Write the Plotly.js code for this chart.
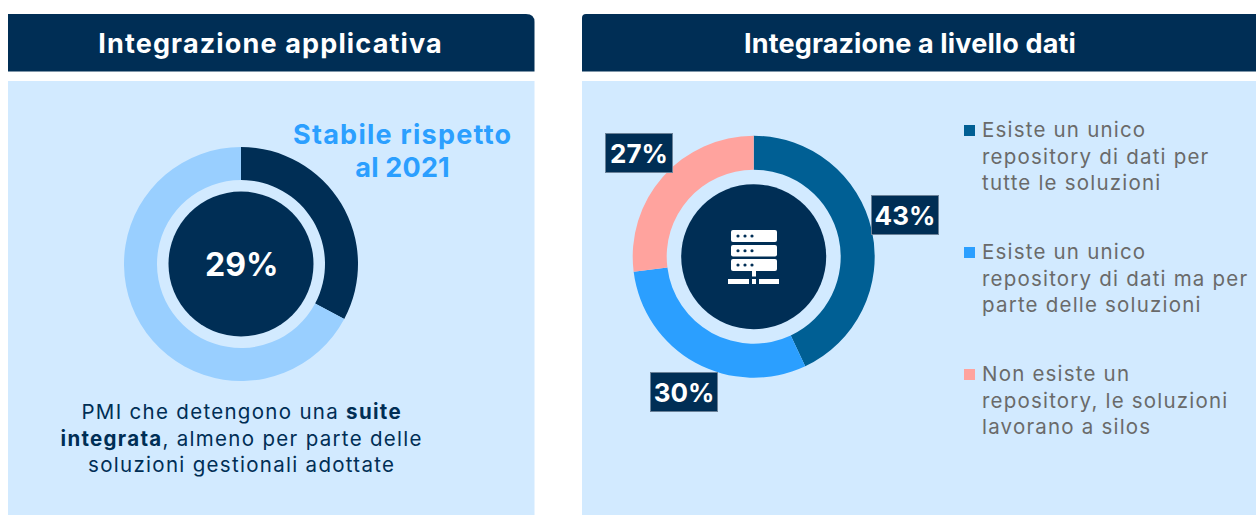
<!DOCTYPE html>
<html><head><meta charset="utf-8">
<script src="https://cdn.plot.ly/plotly-3.0.1.min.js"></script>
<style>html,body{margin:0;padding:0;background:#fff;overflow:hidden}#c{width:1256px;height:515px}</style>
</head><body><div id="c"></div>
<script>
const leftCategories = ["PMI con suite integrata", "Altre PMI"];
const leftLabel = 29;                 // the printed figure
const leftArcValues = [32.8, 67.2];   // the arc as actually drawn in the picture (about 118 degrees)
const leftColors = ["#002e55", "#99cfff"];
const rightCategories = ["Esiste un unico<br>repository di dati per<br>tutte le soluzioni", "Esiste un unico<br>repository di dati ma per<br>parte delle soluzioni", "Non esiste un<br>repository, le soluzioni<br>lavorano a silos"];
const rightValues = [43, 30, 27];
const rightColors = ["#005f94", "#2b9fff", "#ffa39e"];
const NAVY = "#002e55", PANEL = "#d2eaff", FONT = "Inter, 'Open Sans', sans-serif";
const W = 1256, H = 515;
const px = x => x / W, py = y => 1 - y / H;

function dom(cx, cy, r) { return { x: [px(cx - r), px(cx + r)], y: [py(cy + r), py(cy - r)] }; }
function rect(x0, y0, x1, y1, fill, layer) {
  return { type: "rect", xref: "paper", yref: "paper", x0: px(x0), x1: px(x1), y0: py(y1), y1: py(y0), fillcolor: fill, line: { width: 0 }, layer: layer || "below" };
}
function rrect(x0, y0, x1, y1, r, fill) {
  const p = (x, y) => `${px(x)} ${py(y)}`;
  return { type: "path", xref: "paper", yref: "paper", fillcolor: fill, line: { width: 0 }, layer: "above",
    path: `M ${p(x0 + r, y0)} L ${p(x1 - r, y0)} Q ${p(x1, y0)} ${p(x1, y0 + r)} L ${p(x1, y1 - r)} Q ${p(x1, y1)} ${p(x1 - r, y1)} L ${p(x0 + r, y1)} Q ${p(x0, y1)} ${p(x0, y1 - r)} L ${p(x0, y0 + r)} Q ${p(x0, y0)} ${p(x0 + r, y0)} Z` };
}
function circle(cx, cy, r, fill) {
  return { type: "circle", xref: "paper", yref: "paper", x0: px(cx - r), x1: px(cx + r), y0: py(cy + r), y1: py(cy - r), fillcolor: fill, line: { width: 0 }, layer: "above" };
}
const spacing = [];
function note(x, y, text, o, ls) {
  spacing.push(ls || 0);
  return Object.assign({ xref: "paper", yref: "paper", x: px(x), y: py(y), text, showarrow: false, xanchor: "center", yanchor: "middle", align: "center" }, o || {});
}
function font(size, color, weight) { return { family: FONT, size, color, weight: weight || 400 }; }

const shapes = [
  { type: "path", xref: "paper", yref: "paper", fillcolor: NAVY, line: { width: 0 }, layer: "below",
    path: `M ${px(8)} ${py(71.5)} L ${px(8)} ${py(14)} L ${px(526)} ${py(14)} Q ${px(534.5)} ${py(14)} ${px(534.5)} ${py(22)} L ${px(534.5)} ${py(71.5)} Z` },
  { type: "path", xref: "paper", yref: "paper", fillcolor: NAVY, line: { width: 0 }, layer: "below",
    path: `M ${px(582)} ${py(71.5)} L ${px(582)} ${py(18)} Q ${px(582)} ${py(14)} ${px(586)} ${py(14)} L ${px(1256)} ${py(14)} L ${px(1256)} ${py(71.5)} Z` },
  rect(8, 81, 534.5, 515, PANEL),
  rect(582, 81, 1256, 515, PANEL),
  circle(241, 264, 72.5, NAVY),
  circle(753.7, 256.7, 72.5, NAVY)
];
// server icon
const ix = 754;
[[230, 242], [245, 256.5], [259, 271]].forEach(([a, b]) => {
  shapes.push(rrect(ix - 23, a, ix + 23, b, 2, "#fff"));
  [-16, -9, -2].forEach(d => shapes.push(circle(ix + d, (a + b) / 2, 1.6, NAVY)));
});
shapes.push(rect(ix - 2, 271, ix + 2, 276.5, "#fff", "above"));
shapes.push(rect(ix - 26, 279, ix - 5, 284, "#fff", "above"));
shapes.push(rect(ix - 2, 279, ix + 2, 284, "#fff", "above"));
shapes.push(rect(ix + 5, 279, ix + 25, 284, "#fff", "above"));

const legendY = [156, 278, 400];
const annotations = [
  note(270.5, 43, "Integrazione applicativa", { font: font(27, "#fff", 700) }, 1.15),
  note(909.5, 43, "Integrazione a livello dati", { font: font(27, "#fff", 700) }, 0.15),
  note(402, 134, "Stabile rispetto", { font: font(27, "#2b9fff", 700) }, 1.25),
  note(402.5, 167.5, "al 2021", { font: font(27, "#2b9fff", 700) }, 0.2),
  note(241, 264, leftLabel + "%", { font: font(32, "#fff", 700) }),
  note(241, 438, "PMI che detengono una <b>suite</b><br><b>integrata</b>, almeno per parte delle<br>soluzioni gestionali adottate", { font: font(20.5, NAVY, 400) }, 1.3)
];
const boxPos = [[904.5, 214.5], [683.5, 391.5], [639, 152.5]];
rightValues.forEach((v, i) => {
  annotations.push(note(boxPos[i][0], boxPos[i][1], v + "%", {
    font: font(26, "#fff", 700), bgcolor: NAVY, bordercolor: "#6b8299", borderwidth: 1, borderpad: 2, width: 62, height: 34
  }));
  annotations.push(note(979.5, legendY[i], rightCategories[i], { xanchor: "left", align: "left", font: font(20.5, "#6a6a6a", 400) }, 1.2));
  shapes.push(rect(964, legendY[i] - 31, 975, legendY[i] - 20, rightColors[i], "above"));
});
const css = document.createElement("style");
css.textContent = spacing.map((s, i) => `.annotation[data-index="${i}"] text{letter-spacing:${s}px}`).join("");
document.head.appendChild(css);

const data = [
  { type: "pie", labels: leftCategories, values: leftArcValues, marker: { colors: leftColors, line: { width: 0 } },
    hole: 84 / 117, sort: false, direction: "clockwise", rotation: 0, textinfo: "none", hoverinfo: "label", domain: dom(241, 264, 117) },
  { type: "pie", labels: rightCategories, values: rightValues, marker: { colors: rightColors, line: { width: 0 } },
    hole: 87 / 121, sort: false, direction: "clockwise", rotation: 0, textinfo: "none", hoverinfo: "label+percent", domain: dom(753.7, 256.7, 121) }
];
Plotly.newPlot("c", data, {
  width: W, height: H, margin: { l: 0, r: 0, t: 0, b: 0 }, paper_bgcolor: "#fff", plot_bgcolor: "#fff",
  showlegend: false, shapes, annotations
}, { displayModeBar: false, staticPlot: true });
</script></body></html>
